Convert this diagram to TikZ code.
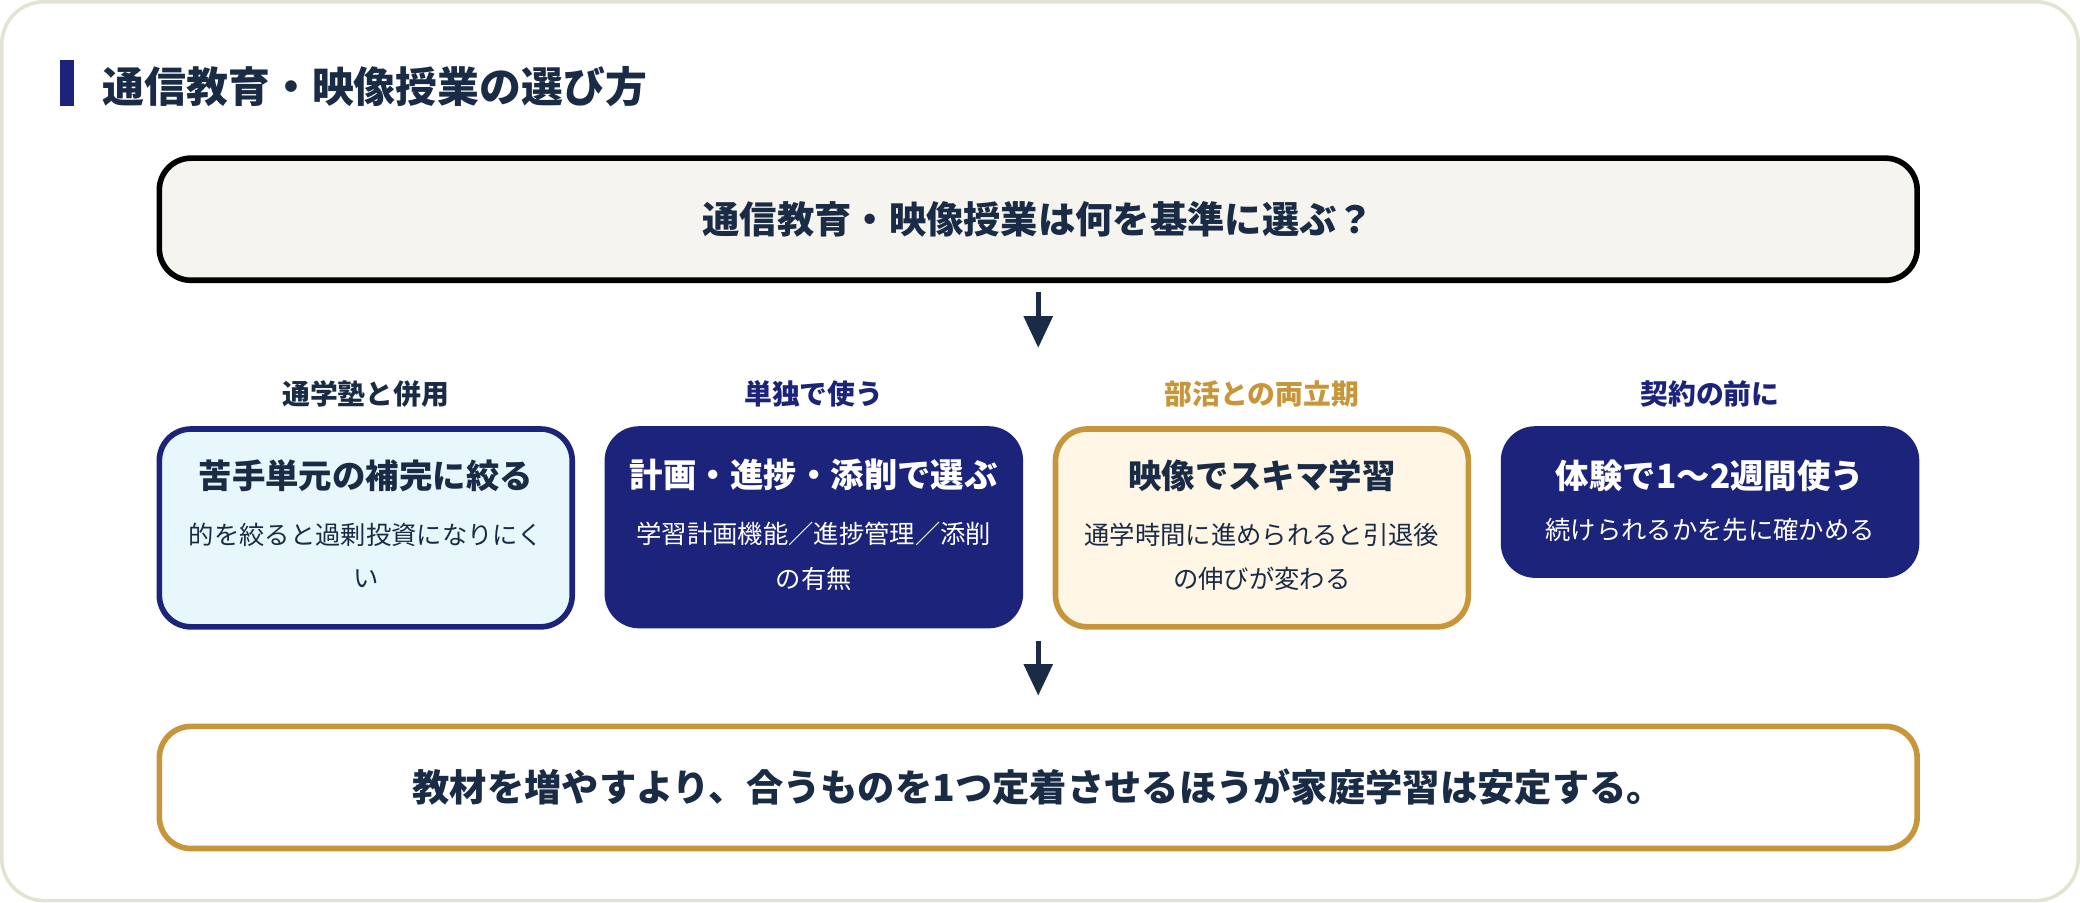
\documentclass[tikz,border=0pt]{standalone}
\usepackage{fontspec}
\setmainfont{Noto Sans CJK JP}
\usetikzlibrary{arrows.meta}
\definecolor{navy}{HTML}{1B237A}
\definecolor{ink}{HTML}{1A2B45}
\definecolor{gold}{HTML}{C8963A}
\definecolor{cream}{HTML}{F5F4EF}
\definecolor{skyfill}{HTML}{E8F7FC}
\definecolor{sandfill}{HTML}{FFF6E6}
\definecolor{frame}{HTML}{E4E2D2}

\begin{document}
\begin{tikzpicture}[x=0.013265cm,y=-0.013265cm,>={Triangle[length=9pt,width=8pt]},
  wide box/.style={draw,line width=1.6pt,rounded corners=9pt,minimum width=1324*0.013265cm,minimum height=92*0.013265cm,anchor=north,font=\fontsize{10.6pt}{12pt}\selectfont\bfseries,text=ink},
  card/.style={line width=1.6pt,rounded corners=9pt,minimum width=311*0.013265cm,anchor=north},
  card title/.style={font=\fontsize{9.5pt}{11pt}\selectfont\bfseries},
  card text/.style={font=\fontsize{7.2pt}{9pt}\selectfont},
  tag/.style={font=\fontsize{7.9pt}{9pt}\selectfont\bfseries},
  flow/.style={->,line width=1.5pt,draw=ink}]
  \node[draw=frame,fill=white,line width=1pt,rounded corners=12pt,minimum width=1564*0.013265cm,minimum height=677*0.013265cm,anchor=north west] (frame) at (2,2) {};
  \fill[navy] (47,47) rectangle (58,82);
  \node[anchor=west,text=ink,font=\fontsize{11.9pt}{13pt}\selectfont\bfseries] (title) at (70,67) {通信教育・映像授業の選び方};

  \node[wide box,fill=cream] (question) at (784,119) {通信教育・映像授業は何を基準に選ぶ？};
  \coordinate (a1) at (784,222);
  \coordinate (b1) at (784,264);
  \draw[flow] (a1) -- (b1);

  % column 1
  \node[tag,text=ink] (tag1) at (277.5,299) {通学塾と併用};
  \node[card,draw=navy,fill=skyfill,minimum height=149*0.013265cm] (card1) at (277.5,323) {};
  \node[card title,text=ink] (head1) at (277.5,360) {苦手単元の補完に絞る};
  \node[card text,text=ink] (body1a) at (277.5,405) {的を絞ると過剰投資になりにく};
  \node[card text,text=ink] (body1b) at (277.5,438) {い};
  % column 2
  \node[tag,text=navy] (tag2) at (615,299) {単独で使う};
  \node[card,draw=navy,fill=navy,minimum height=148*0.013265cm] (card2) at (615,323) {};
  \node[card title,text=white] (head2) at (615,360) {計画・進捗・添削で選ぶ};
  \node[card text,text=white] (body2a) at (615,404) {学習計画機能／進捗管理／添削};
  \node[card text,text=white] (body2b) at (615,438) {の有無};
  % column 3
  \node[tag,text=gold] (tag3) at (952.5,299) {部活との両立期};
  \node[card,draw=gold,fill=sandfill,minimum height=149*0.013265cm] (card3) at (952.5,323) {};
  \node[card title,text=ink] (head3) at (952.5,360) {映像でスキマ学習};
  \node[card text,text=ink] (body3a) at (952.5,405) {通学時間に進められると引退後};
  \node[card text,text=ink] (body3b) at (952.5,438) {の伸びが変わる};
  % column 4
  \node[tag,text=navy] (tag4) at (1290,299) {契約の前に};
  \node[card,draw=navy,fill=navy,minimum height=110*0.013265cm] (card4) at (1290,323) {};
  \node[card title,text=white] (head4) at (1290,360) {体験で1〜2週間使う};
  \node[card text,text=white] (body4) at (1290,401) {続けられるかを先に確かめる};

  \coordinate (a2) at (784,485);
  \coordinate (b2) at (784,526);
  \draw[flow] (a2) -- (b2);
  \node[wide box,draw=gold,fill=white] (answer) at (784,547) {教材を増やすより、合うものを1つ定着させるほうが家庭学習は安定する。};
\end{tikzpicture}
\end{document}
